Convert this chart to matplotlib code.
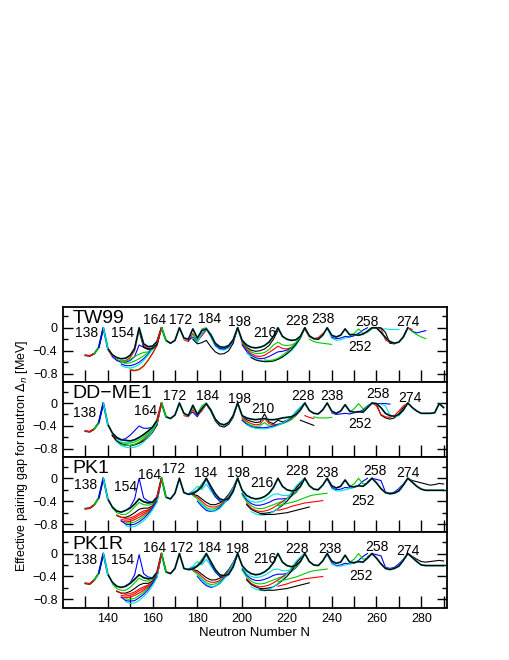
import numpy as np
import matplotlib.pyplot as plt
from matplotlib.ticker import FixedLocator, FixedFormatter, NullFormatter

plt.rcParams['font.family'] = ['Liberation Sans', 'DejaVu Sans']

# neutron number grid of the common (peak-to-peak) curve in every panel
N_grid = np.arange(130, 292, 2)

# ---------------- TW99 ----------------
tw99_top = [
    -0.48, -0.49, -0.45, -0.34, 0.0, -0.36, -0.47, -0.52, -0.54, -0.53,
    -0.48, -0.36, 0.0, -0.28, -0.33, -0.32, -0.24, 0.0, -0.22, -0.27,
    -0.22, 0.0, -0.18, -0.20, -0.02, -0.18, -0.05, -0.02, -0.12, -0.27,
    -0.33, -0.34, -0.31, -0.21, 0.0, -0.22, -0.30, -0.34, -0.35, -0.34,
    -0.31, -0.25, -0.15, 0.0, -0.15, -0.20, -0.22, -0.21, -0.15, 0.0,
    -0.14, -0.19, -0.20, -0.13, 0.0, -0.13, -0.16, -0.13, -0.02, -0.12,
    -0.12, -0.13, -0.11, -0.06, 0.0, 0.0, -0.08, -0.17, -0.24, -0.27,
    -0.25, -0.16, 0.0, np.nan, np.nan, np.nan, np.nan, np.nan, np.nan, np.nan,
    np.nan]
tw99_low_start = [140, 142, 144, 146, 146, 146, 150, 150, 154,
                  174, 176, 178, 178, 178, 184,
                  198, 200, 200, 200, 202, 204, 210,
                  228, 230, 238, 240, 248, 256, 258, 258, 272, 272, 270]
tw99_low_vals = [
    [-0.38, -0.50, -0.56, -0.58, -0.57, -0.52, -0.40, -0.04, -0.31, -0.36, -0.35, -0.27, 0.0],
    [-0.50, -0.57, -0.60, -0.60, -0.57, -0.50, -0.30, -0.34, -0.38, -0.37, -0.29, 0.0],
    [-0.55, -0.58, -0.58, -0.55, -0.50, -0.46, -0.43, -0.42, -0.38, -0.30, 0.0],
    [-0.60, -0.62, -0.61, -0.58, -0.54, -0.49, -0.43, -0.35, -0.26, 0.0],
    [-0.63, -0.66, -0.66, -0.64, -0.60, -0.54, -0.46, -0.36, -0.25, 0.0],
    [-0.66, -0.69, -0.70, -0.68, -0.64, -0.57, -0.48, -0.37, -0.25, 0.0],
    [-0.72, -0.74, -0.72, -0.66, -0.56, -0.44, -0.30, 0.0],
    [-0.74, -0.75, -0.73, -0.67, -0.57, -0.45, -0.31, 0.0],
    [-0.05, -0.34, -0.37, -0.36, -0.29, 0.0],
    [-0.21, -0.24, -0.10, -0.23, -0.14, -0.04],
    [-0.22, -0.16, -0.25, -0.10, -0.03],
    [-0.12, -0.22, -0.02, 0.0, -0.12, -0.30, -0.36, -0.37, -0.33, -0.23, 0.0],
    [-0.18, -0.25, -0.10, -0.02, -0.16, -0.32, -0.38, -0.39, -0.35, -0.24, 0.0],
    [-0.20, -0.28, -0.26, -0.22, -0.33, -0.42, -0.46, -0.45, -0.40, -0.27, 0.0],
    [-0.02, -0.14, -0.30, -0.36, -0.37, -0.33, -0.23, 0.0],
    [0.0, -0.25, -0.34, -0.39, -0.41, -0.40, -0.37, -0.31, -0.20, -0.05],
    [-0.26, -0.36, -0.42, -0.45, -0.45, -0.43, -0.38, -0.30, -0.25, -0.30, -0.31, -0.30, -0.26, -0.18, 0.0],
    [-0.28, -0.38, -0.45, -0.49, -0.50, -0.48, -0.43, -0.38, -0.32, -0.36, -0.37, -0.34, -0.28, -0.18, 0.0],
    [-0.30, -0.41, -0.48, -0.52, -0.54, -0.53, -0.50, -0.46, -0.42, -0.41, -0.39, -0.35, -0.28, -0.18, 0.0],
    [-0.44, -0.51, -0.55, -0.57, -0.58, -0.58, -0.57, -0.55, -0.51, -0.46, -0.40, -0.31, -0.19, 0.0],
    [-0.52, -0.56, -0.58, -0.59, -0.59, -0.58, -0.55, -0.51, -0.45, -0.38, -0.29, -0.17, 0.0],
    [-0.56, -0.57, -0.56, -0.53, -0.48, -0.42, -0.35, -0.26, -0.16, 0.0],
    [-0.03, -0.16, -0.19, -0.17, -0.10],
    [-0.20, -0.24, -0.26, -0.27, -0.28, -0.29],
    [-0.02, -0.18, -0.22, -0.21, -0.18, -0.16, -0.13, -0.09],
    [-0.16, -0.19, -0.18, -0.15, -0.16, -0.14, -0.10, -0.04, 0.0],
    [-0.14, -0.10, -0.02, -0.10, -0.08, -0.02],
    [-0.05, -0.01, -0.01, -0.02, -0.02, -0.03, -0.03, -0.03],
    [0.0, 0.0, -0.01, -0.21, -0.26],
    [0.0, 0.0, 0.0, -0.08, -0.27, -0.28],
    [-0.16, 0.0, -0.06, -0.09, -0.07, -0.05],
    [-0.16, 0.0, -0.07, -0.12, -0.16, -0.19],
    [-0.25, -0.16, 0.0, -0.03]]
tw99_low_cols = ['r', 'b', 'g', 'g', 'b', 'c', 'g', 'r', 'k',
                 'r', 'b', 'g', 'c', 'k', 'b',
                 'k', 'g', 'r', 'b', 'c', 'k', 'g',
                 'r', 'g', 'c', 'b', 'g', 'c', 'r', 'k', 'b', 'g', 'r']
tw99_tags = ['138', '154', '164', '172', '184', '198', '216', '228', '238', '258', '252', '274']
tw99_tag_N = [130.5, 146.5, 160.7, 172.4, 185.3, 198.8, 210.3, 224.3, 236.0, 255.7, 252.8, 274.0]
tw99_tag_v = [-0.10, -0.10, 0.13, 0.13, 0.16, 0.10, -0.09, 0.125, 0.155, 0.095, -0.34, 0.095]

# ---------------- DD-ME1 ----------------
ddme1_top = [
    -0.49, -0.50, -0.45, -0.34, 0.0, -0.37, -0.52, -0.60, -0.64, -0.65,
    -0.66, -0.64, -0.60, -0.55, -0.49, -0.42, -0.30, 0.0, -0.24, -0.27,
    -0.21, 0.0, -0.18, -0.22, -0.04, -0.20, -0.10, -0.01, -0.12, -0.28,
    -0.36, -0.38, -0.34, -0.22, 0.0, -0.22, -0.26, -0.28, -0.29, -0.28,
    -0.27, -0.29, -0.29, -0.28, -0.26, -0.25, -0.24, -0.20, -0.12, 0.0,
    -0.13, -0.18, -0.19, -0.12, 0.0, -0.14, -0.18, -0.14, -0.03, -0.14,
    -0.16, -0.15, -0.16, -0.08, 0.0, -0.01, -0.08, -0.18, -0.22, -0.23,
    -0.20, -0.12, 0.0, -0.08, -0.14, -0.18, -0.18, -0.18, -0.17, -0.01,
    -0.08]
ddme1_low_start = [142, 142, 142, 142, 144, 146, 144,
                   174, 176, 176, 182, 184,
                   200, 200, 200, 200, 202,
                   226, 228, 232, 240, 248, 258, 262, 258, 258]
ddme1_low_vals = [
    [-0.55, -0.62, -0.64, -0.62, -0.56, -0.48, -0.40, -0.44, -0.44, -0.42, -0.32, 0.0],
    [-0.56, -0.65, -0.69, -0.70, -0.70, -0.68, -0.64, -0.59, -0.53, -0.46, -0.36, 0.0],
    [-0.57, -0.67, -0.72, -0.74, -0.74, -0.72, -0.69, -0.64, -0.57, -0.49, -0.38, 0.0],
    [-0.56, -0.66, -0.71, -0.73, -0.74, -0.73, -0.70, -0.66, -0.60, -0.51, -0.38, 0.0],
    [-0.68, -0.74, -0.77, -0.78, -0.77, -0.74, -0.68, -0.60, -0.49, -0.35, 0.0],
    [-0.72, -0.74, -0.74, -0.72, -0.68, -0.62, -0.55, -0.46, -0.34, 0.0],
    [-0.64, -0.68, -0.69, -0.68, -0.65, -0.60, -0.55, -0.49, -0.42, -0.32, 0.0],
    [-0.22, -0.24, -0.12, -0.22, -0.14, -0.02],
    [-0.20, -0.16, -0.24, -0.10, -0.01],
    [-0.23, -0.08, -0.18, -0.05, 0.0],
    [-0.12, 0.0, -0.12, -0.28, -0.37, -0.40, -0.35, -0.23, 0.0],
    [-0.02, -0.14, -0.31, -0.40, -0.42, -0.37, -0.25, 0.0],
    [-0.23, -0.29, -0.32, -0.34, -0.33, -0.19, -0.33, -0.36, -0.30, -0.33, -0.30, -0.26, -0.20, -0.12, 0.0],
    [-0.26, -0.32, -0.36, -0.38, -0.37, -0.27, -0.36, -0.38, -0.37, -0.35, -0.32, -0.28, -0.22, -0.13, 0.0],
    [-0.28, -0.35, -0.39, -0.41, -0.40, -0.34, -0.40, -0.40, -0.38, -0.36, -0.33, -0.29, -0.22, -0.13, 0.0],
    [-0.30, -0.37, -0.41, -0.43, -0.43, -0.43, -0.42, -0.40, -0.38, -0.35, -0.31, -0.25, -0.16, -0.08, 0.0],
    [-0.38, -0.42, -0.44, -0.45, -0.45, -0.44, -0.42, -0.39, -0.35, -0.30, -0.24, -0.15, -0.07, 0.0],
    [-0.30, -0.33, -0.36, -0.39],
    [-0.22, -0.25, -0.27],
    [-0.24, -0.26, -0.26, -0.26, -0.25],
    [-0.17, -0.20, -0.19, -0.18, -0.19, -0.17, -0.16, -0.12, -0.05, 0.0],
    [-0.16, -0.10, -0.01, -0.10, -0.06, 0.0],
    [-0.01, -0.01, -0.01, -0.01, -0.02],
    [-0.02, -0.05, -0.21, -0.24, -0.22, -0.14, 0.0],
    [0.0, -0.02, -0.21, -0.26, -0.28, -0.26, -0.18, -0.08, 0.0],
    [0.0, -0.05, -0.20, -0.24, -0.25, -0.22, -0.14, -0.05, 0.0]]
ddme1_low_cols = ['b', 'g', 'r', 'k', 'c', 'g', 'c',
                  'r', 'b', 'g', 'c', 'k',
                  'k', 'r', 'g', 'b', 'c',
                  'k', 'r', 'g', 'b', 'g', 'b', 'c', 'k', 'r']
ddme1_tags = ['138', '164', '172', '184', '198', '210', '228', '238', '258', '252', '274']
ddme1_tag_N = [129.5, 157.0, 170.0, 184.6, 198.8, 209.1, 227.3, 240.0, 260.8, 252.6, 274.9]
ddme1_tag_v = [-0.17, -0.14, 0.12, 0.12, 0.075, -0.11, 0.12, 0.12, 0.16, -0.37, 0.09]

# ---------------- PK1 ----------------
pk1_top = [
    -0.53, -0.52, -0.46, -0.34, 0.0, -0.36, -0.50, -0.57, -0.59, -0.56,
    -0.52, -0.45, -0.36, -0.41, -0.43, -0.42, -0.33, 0.0, -0.33, -0.36,
    -0.26, 0.0, -0.25, -0.28, -0.27, -0.22, -0.14, 0.0, -0.14, -0.27,
    -0.36, -0.38, -0.35, -0.22, 0.0, -0.21, -0.30, -0.34, -0.36, -0.35,
    -0.32, -0.26, -0.16, 0.0, -0.14, -0.20, -0.22, -0.21, -0.14, 0.0,
    -0.13, -0.19, -0.20, -0.12, 0.0, -0.13, -0.17, -0.14, -0.03, -0.14,
    -0.15, -0.13, -0.14, -0.08, 0.0, -0.08, -0.18, -0.25, -0.27, -0.26,
    -0.22, -0.12, 0.0, -0.07, -0.14, -0.19, -0.21, -0.21, -0.21, -0.21,
    -0.21]
pk1_low_start = [148, 142, 144, 144, 146, 146, 148, 146, 148,
                 176, 178, 176, 176, 178, 178, 180, 180,
                 200, 200, 200, 202, 202, 204, 208, 216, 216,
                 238, 248, 256, 274, 240]
pk1_low_vals = [
    [-0.56, -0.50, -0.36, 0.0, -0.34, -0.40, -0.41, -0.32, 0.0],
    [-0.52, -0.60, -0.63, -0.63, -0.58, -0.50, -0.42, -0.46, -0.47, -0.45, -0.35, 0.0],
    [-0.65, -0.68, -0.68, -0.65, -0.60, -0.54, -0.52, -0.52, -0.48, -0.37, 0.0],
    [-0.64, -0.68, -0.70, -0.69, -0.66, -0.61, -0.57, -0.55, -0.50, -0.38, 0.0],
    [-0.72, -0.73, -0.72, -0.69, -0.64, -0.60, -0.56, -0.51, -0.39, 0.0],
    [-0.75, -0.76, -0.75, -0.72, -0.68, -0.63, -0.58, -0.52, -0.40, 0.0],
    [-0.78, -0.78, -0.76, -0.72, -0.66, -0.60, -0.52, -0.40, 0.0],
    [-0.74, -0.80, -0.81, -0.80, -0.76, -0.70, -0.62, -0.52, -0.40, 0.0],
    [-0.82, -0.85, -0.84, -0.80, -0.74, -0.66, -0.55, -0.42, 0.0],
    [-0.27, -0.22, -0.14, -0.20, -0.10, -0.22, -0.32, -0.38, -0.38, -0.34, -0.22, 0.0],
    [-0.25, -0.20, -0.10, 0.0, -0.14, -0.28, -0.37, -0.39, -0.35, -0.23, 0.0],
    [-0.27, -0.25, -0.22, -0.16, -0.02, -0.18, -0.32, -0.40, -0.42, -0.37, -0.24, 0.0],
    [-0.28, -0.28, -0.30, -0.36, -0.42, -0.46, -0.46, -0.43, -0.37, -0.28, -0.16, 0.0],
    [-0.29, -0.33, -0.40, -0.47, -0.50, -0.50, -0.47, -0.40, -0.29, -0.16, 0.0],
    [-0.30, -0.36, -0.44, -0.51, -0.54, -0.53, -0.49, -0.42, -0.30, -0.17, 0.0],
    [-0.40, -0.49, -0.56, -0.58, -0.56, -0.51, -0.43, -0.31, -0.17, 0.0],
    [-0.38, -0.46, -0.53, -0.57, -0.57, -0.53, -0.44, -0.32, -0.17, 0.0],
    [-0.25, -0.35, -0.40, -0.42, -0.41, -0.38, -0.33, -0.28, -0.27, -0.30, -0.30, -0.28, -0.22, -0.14, 0.0],
    [-0.27, -0.38, -0.44, -0.47, -0.47, -0.45, -0.42, -0.38, -0.36, -0.36, -0.35, -0.31, -0.25, -0.15, 0.0],
    [-0.29, -0.41, -0.48, -0.52, -0.53, -0.52, -0.49, -0.46, -0.43, -0.40, -0.36, -0.31, -0.24, -0.15, 0.0],
    [-0.44, -0.52, -0.56, -0.58, -0.57, -0.55, -0.51, -0.46, -0.41, -0.35, -0.27, -0.16, -0.08, 0.0],
    [-0.46, -0.54, -0.58, -0.61, -0.61, -0.60, -0.58, -0.53, -0.47, -0.40, -0.31, -0.18, -0.08, 0.0],
    [-0.58, -0.62, -0.64, -0.64, -0.62, -0.58, -0.52, -0.45, -0.36, -0.25, -0.14, -0.06, 0.0],
    [-0.62, -0.63, -0.63, -0.63, -0.62, -0.61, -0.60, -0.58, -0.56, -0.54, -0.52, -0.50],
    [-0.56, -0.54, -0.52, -0.49, -0.47, -0.45, -0.43, -0.42, -0.41, -0.40, -0.39],
    [-0.48, -0.46, -0.44, -0.42, -0.40, -0.37, -0.34, -0.31, -0.29, -0.28, -0.27, -0.26],
    [-0.02, -0.16, -0.20, -0.19, -0.16, -0.17, -0.16, -0.12, -0.05, 0.0],
    [-0.14, -0.10, 0.0, -0.10, -0.08, 0.0],
    [-0.06, 0.0, -0.02, -0.04, -0.24, -0.26, -0.24, -0.18, -0.10, 0.0],
    [0.0, -0.04, -0.06, -0.08, -0.10, -0.12, -0.11, -0.09, -0.10],
    [-0.18, -0.22, -0.22, -0.20, -0.18, -0.16]]
pk1_low_cols = ['b', 'g', 'k', 'r', 'r', 'r', 'g', 'b', 'c',
                'c', 'g', 'b', 'k', 'r', 'g', 'b', 'c',
                'c', 'b', 'g', 'r', 'k', 'c', 'k', 'r', 'g',
                'b', 'g', 'b', 'k', 'c']
pk1_tags = ['138', '154', '164', '172', '184', '198', '216', '228', '238', '258', '252', '274']
pk1_tag_N = [130.3, 148.1, 158.8, 169.6, 183.5, 198.3, 208.7, 224.3, 237.7, 259.3, 254.0, 274.0]
pk1_tag_v = [-0.12, -0.16, 0.06, 0.16, 0.09, 0.09, -0.09, 0.125, 0.095, 0.125, -0.40, 0.095]

# ---------------- PK1R ----------------
pk1r_top = [
    -0.52, -0.53, -0.46, -0.34, 0.0, -0.36, -0.50, -0.57, -0.59, -0.57,
    -0.52, -0.45, -0.37, -0.42, -0.44, -0.43, -0.33, 0.0, -0.32, -0.35,
    -0.26, 0.0, -0.26, -0.28, -0.27, -0.22, -0.14, 0.0, -0.14, -0.28,
    -0.37, -0.39, -0.36, -0.23, 0.0, -0.21, -0.30, -0.35, -0.37, -0.36,
    -0.32, -0.26, -0.16, 0.0, -0.15, -0.21, -0.23, -0.21, -0.14, 0.0,
    -0.14, -0.20, -0.21, -0.13, 0.0, -0.13, -0.17, -0.15, -0.03, -0.15,
    -0.16, -0.14, -0.15, -0.08, 0.0, -0.08, -0.18, -0.26, -0.28, -0.26,
    -0.22, -0.12, 0.0, -0.07, -0.14, -0.20, -0.21, -0.21, -0.21, -0.21,
    -0.21]
pk1r_low_start = [148, 142, 144, 144, 146, 146, 148, 146, 148,
                  176, 178, 176, 176, 178, 178, 180, 180,
                  200, 200, 200, 202, 202, 204, 208, 216, 216,
                  238, 248, 256, 274, 240]
pk1r_low_vals = [
    [-0.56, -0.51, -0.37, -0.02, -0.35, -0.41, -0.42, -0.32, 0.0],
    [-0.53, -0.61, -0.64, -0.64, -0.59, -0.51, -0.43, -0.47, -0.48, -0.45, -0.35, 0.0],
    [-0.66, -0.69, -0.69, -0.66, -0.61, -0.55, -0.52, -0.52, -0.48, -0.37, 0.0],
    [-0.65, -0.69, -0.71, -0.70, -0.67, -0.62, -0.58, -0.55, -0.50, -0.38, 0.0],
    [-0.73, -0.74, -0.73, -0.70, -0.65, -0.61, -0.56, -0.51, -0.39, 0.0],
    [-0.76, -0.77, -0.76, -0.73, -0.69, -0.64, -0.58, -0.52, -0.40, 0.0],
    [-0.79, -0.80, -0.78, -0.73, -0.67, -0.60, -0.52, -0.40, 0.0],
    [-0.76, -0.82, -0.83, -0.82, -0.77, -0.71, -0.63, -0.52, -0.40, 0.0],
    [-0.84, -0.87, -0.86, -0.82, -0.75, -0.67, -0.56, -0.42, 0.0],
    [-0.27, -0.22, -0.14, -0.20, -0.10, -0.22, -0.32, -0.38, -0.38, -0.34, -0.22, 0.0],
    [-0.25, -0.20, -0.10, 0.0, -0.14, -0.28, -0.37, -0.39, -0.35, -0.23, 0.0],
    [-0.27, -0.25, -0.22, -0.16, -0.02, -0.18, -0.32, -0.40, -0.42, -0.37, -0.24, 0.0],
    [-0.28, -0.28, -0.30, -0.36, -0.42, -0.46, -0.46, -0.43, -0.37, -0.28, -0.16, 0.0],
    [-0.29, -0.33, -0.40, -0.47, -0.50, -0.50, -0.47, -0.40, -0.29, -0.16, 0.0],
    [-0.30, -0.36, -0.44, -0.51, -0.54, -0.53, -0.49, -0.42, -0.30, -0.17, 0.0],
    [-0.40, -0.49, -0.56, -0.59, -0.57, -0.52, -0.43, -0.31, -0.17, 0.0],
    [-0.38, -0.46, -0.53, -0.57, -0.57, -0.53, -0.44, -0.32, -0.17, 0.0],
    [-0.25, -0.35, -0.40, -0.42, -0.41, -0.38, -0.33, -0.28, -0.27, -0.30, -0.30, -0.28, -0.22, -0.14, 0.0],
    [-0.27, -0.38, -0.44, -0.47, -0.47, -0.45, -0.42, -0.38, -0.36, -0.36, -0.35, -0.31, -0.25, -0.15, 0.0],
    [-0.29, -0.41, -0.48, -0.52, -0.53, -0.52, -0.49, -0.46, -0.43, -0.40, -0.36, -0.31, -0.24, -0.15, 0.0],
    [-0.44, -0.52, -0.56, -0.58, -0.57, -0.55, -0.51, -0.46, -0.41, -0.35, -0.27, -0.16, -0.08, 0.0],
    [-0.46, -0.54, -0.58, -0.61, -0.61, -0.60, -0.58, -0.53, -0.47, -0.40, -0.31, -0.18, -0.08, 0.0],
    [-0.58, -0.62, -0.64, -0.65, -0.63, -0.58, -0.52, -0.45, -0.36, -0.25, -0.14, -0.06, 0.0],
    [-0.63, -0.64, -0.64, -0.64, -0.63, -0.62, -0.61, -0.59, -0.57, -0.55, -0.53, -0.51],
    [-0.57, -0.55, -0.53, -0.50, -0.48, -0.46, -0.44, -0.43, -0.42, -0.41, -0.40],
    [-0.49, -0.47, -0.45, -0.43, -0.41, -0.38, -0.35, -0.32, -0.30, -0.29, -0.28, -0.27],
    [-0.02, -0.16, -0.21, -0.20, -0.17, -0.18, -0.17, -0.12, -0.05, 0.0],
    [-0.15, -0.10, 0.0, -0.10, -0.08, 0.0],
    [-0.06, 0.0, -0.02, -0.04, -0.24, -0.26, -0.24, -0.18, -0.10, 0.0],
    [0.0, -0.05, -0.10, -0.14, -0.15, -0.14, -0.13, -0.12, -0.13],
    [-0.18, -0.22, -0.22, -0.20, -0.18, -0.16]]
pk1r_low_cols = pk1_low_cols
pk1r_tags = ['138', '154', '164', '172', '184', '198', '216', '228', '238', '258', '252', '274']
pk1r_tag_N = [129.9, 146.8, 161.1, 173.1, 185.6, 197.9, 210.2, 224.3, 239.2, 260.0, 253.3, 274.0]
pk1r_tag_v = [-0.12, -0.12, 0.10, 0.10, 0.10, 0.07, -0.09, 0.07, 0.07, 0.12, -0.40, 0.05]

panel_names = ['TW99', 'DD\u2212ME1', 'PK1', 'PK1R']

# coloured stretches of the common curve
acc_from = [130, 134, 136, 138, 162, 164]
acc_to = [134, 136, 138, 140, 164, 166]
acc_col = ['r', 'g', 'b', 'c', 'r', 'g']

COL = {'r': '#ff0000', 'g': '#00cc00', 'b': '#0000ff', 'c': '#00e0e0', 'k': '#000000'}

panels = [
    (tw99_top, tw99_low_start, tw99_low_vals, tw99_low_cols, tw99_tags, tw99_tag_N, tw99_tag_v),
    (ddme1_top, ddme1_low_start, ddme1_low_vals, ddme1_low_cols, ddme1_tags, ddme1_tag_N, ddme1_tag_v),
    (pk1_top, pk1_low_start, pk1_low_vals, pk1_low_cols, pk1_tags, pk1_tag_N, pk1_tag_v),
    (pk1r_top, pk1r_low_start, pk1r_low_vals, pk1r_low_cols, pk1r_tags, pk1r_tag_N, pk1r_tag_v),
]

fig = plt.figure(figsize=(5.1, 6.6), dpi=100)
left, width = 63 / 510, 384 / 510
top_px, h_px = 306.5, 75.25

for i, (top, l_start, l_vals, l_cols, tags, tag_N, tag_v) in enumerate(panels):
    bottom = 1 - (top_px + h_px * (i + 1)) / 660
    ax = fig.add_axes([left, bottom, width, h_px / 660])

    for n0, vals, c in zip(l_start, l_vals, l_cols):
        n = np.arange(n0, n0 + 2 * len(vals), 2)
        ax.plot(n, vals, color=COL[c], lw=0.8)

    top = np.array(top, dtype=float)
    ax.plot(N_grid, top, color='#2a9a9a', lw=1.4)
    ax.plot(N_grid, top, color='black', lw=0.9)
    for a, b, c in zip(acc_from, acc_to, acc_col):
        m = (N_grid >= a) & (N_grid <= b)
        ax.plot(N_grid[m], top[m], color=COL[c], lw=1.0)

    ax.text(124.3, 0.165, panel_names[i], fontsize=14, ha='left', va='center')
    for t, n, v in zip(tags, tag_N, tag_v):
        ax.text(n, v, t, fontsize=10, ha='center', va='center')

    ax.set_xlim(120, 291.5)
    ax.set_ylim(-0.94, 0.37)

    ax.xaxis.set_major_locator(FixedLocator(range(140, 281, 20)))
    ax.xaxis.set_minor_locator(FixedLocator(range(130, 291, 20)))
    ax.yaxis.set_major_locator(FixedLocator([-0.8, -0.4, 0.0]))
    ax.yaxis.set_major_formatter(FixedFormatter(['\u22120.8', '\u22120.4', '0']))
    ax.yaxis.set_minor_locator(FixedLocator([-0.6, -0.2, 0.2]))
    ax.tick_params(axis='x', which='both', direction='in', length=8.5, width=1.0,
                   top=False, bottom=True, labelsize=9, pad=4)
    ax.tick_params(axis='y', which='major', direction='in', length=7, width=1.0,
                   left=True, right=True, labelsize=9, pad=4)
    ax.tick_params(axis='y', which='minor', direction='in', length=3.5, width=1.0,
                   left=True, right=True)
    if i < 3:
        ax.xaxis.set_major_formatter(NullFormatter())
    for s in ax.spines.values():
        s.set_linewidth(1.3)

fig.text(255 / 510, 1 - 633 / 660, 'Neutron Number N', fontsize=9.5, ha='center', va='center')
fig.text(22 / 510, 1 - 456 / 660, 'Effective pairing gap for neutron $\\Delta_n$ [MeV]',
         fontsize=9, rotation=90, ha='center', va='center')

fig.savefig('out.png', dpi=100)
